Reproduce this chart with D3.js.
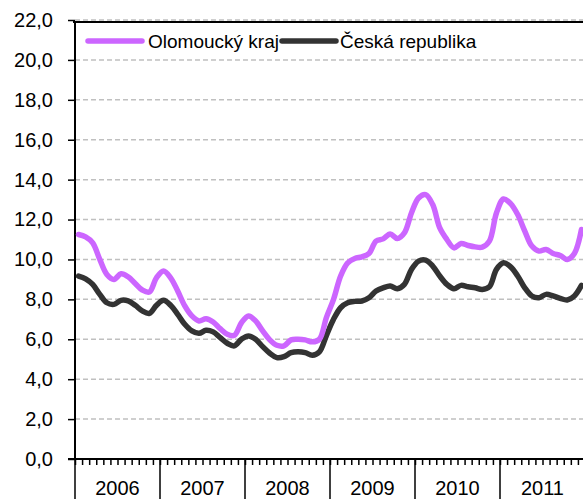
<!DOCTYPE html>
<html>
<head>
<meta charset="utf-8">
<script src="https://cdn.jsdelivr.net/npm/d3@7"></script>
<style>
  body { margin: 0; background: #fff; }
  svg { display: block; font-family: 'Liberation Sans', Arial, sans-serif; }
</style>
</head>
<body>
<svg id="chart" width="583" height="499"></svg>
<script>
const years = [2006, 2007, 2008, 2009, 2010, 2011]
const seriesNames = ['Olomoucký kraj', 'Česká republika']
const yTicks = [0, 2, 4, 6, 8, 10, 12, 14, 16, 18, 20, 22]

// monthly values, Jan 2006 .. Dec 2011
const olomoucky = [
  11.25, 11.13, 10.83, 10.0, 9.25, 9.0, 9.28, 9.13, 8.8, 8.47, 8.37, 9.08,
  9.42, 9.08, 8.42, 7.67, 7.17, 6.92, 7.03, 6.87, 6.53, 6.25, 6.2, 6.83,
  7.17, 6.92, 6.42, 5.97, 5.7, 5.67, 5.97, 6.0, 5.97, 5.87, 6.0, 7.1,
  8.0, 9.17, 9.83, 10.05, 10.13, 10.3, 10.92, 11.03, 11.28, 11.05, 11.33, 12.33,
  13.08, 13.25, 12.75, 11.58, 11.0, 10.58, 10.8, 10.7, 10.63, 10.62, 10.92, 12.33,
  13.03, 12.8, 12.25, 11.42, 10.67, 10.42, 10.5, 10.3, 10.2, 10.0, 10.3, 11.5
]
const ceskaRepublika = [
  9.17, 9.03, 8.75, 8.25, 7.83, 7.75, 7.95, 7.92, 7.7, 7.42, 7.3, 7.7,
  7.95, 7.7, 7.25, 6.75, 6.42, 6.3, 6.45, 6.37, 6.08, 5.8, 5.67, 6.0,
  6.17, 6.0, 5.63, 5.3, 5.08, 5.13, 5.33, 5.37, 5.33, 5.2, 5.37, 6.2,
  7.0, 7.58, 7.83, 7.9, 7.92, 8.08, 8.42, 8.58, 8.67, 8.53, 8.75, 9.5,
  9.92, 9.97, 9.67, 9.17, 8.75, 8.53, 8.7, 8.63, 8.58, 8.5, 8.63, 9.5,
  9.83, 9.63, 9.17, 8.58, 8.17, 8.08, 8.25, 8.17, 8.05, 7.97, 8.17, 8.7
]

const margin = { left: 75, right: 585, top: 20, bottom: 459 }
const svg = d3.select('#chart')

const months = d3.range(years.length * 12)

const x = d3.scaleBand().domain(months).range([margin.left, margin.right]).padding(0)
const xm = d3.scaleLinear().domain([0, months.length]).range([margin.left, margin.right])
const y = d3.scaleLinear().domain([0, 22]).range([margin.bottom, margin.top])

// grid
svg.append('g')
  .selectAll('line')
  .data(yTicks.filter((d) => d > 0))
  .enter()
  .append('line')
  .attr('x1', margin.left)
  .attr('x2', 583)
  .attr('y1', (d) => y(d))
  .attr('y2', (d) => y(d))
  .attr('stroke', '#c0c0c0')
  .attr('stroke-width', 1.5)
  .attr('stroke-dasharray', '5,3')

// top frame line
svg.append('line')
  .attr('x1', margin.left - 2).attr('x2', 583)
  .attr('y1', y(22) + 2).attr('y2', y(22) + 2)
  .attr('stroke', '#000').attr('stroke-width', 2)

// y axis
const yAxis = svg.append('g')
  .attr('transform', `translate(${margin.left},0)`)
  .call(d3.axisLeft(y).tickValues(yTicks).tickSize(7).tickPadding(15)
    .tickFormat((d) => d.toFixed(1).replace('.', ',')))
yAxis.select('.domain').attr('stroke-width', 2).attr('d', `M0,${y(22) + 2}V${margin.bottom}`)
yAxis.selectAll('.tick line').attr('stroke-width', 1.5)
yAxis.selectAll('.tick text').attr('font-size', 20).attr('fill', '#000')
  .attr('font-family', "'Liberation Sans', Arial, sans-serif")

// x axis: month ticks
const xAxis = svg.append('g')
  .attr('transform', `translate(0,${margin.bottom})`)
  .call(d3.axisBottom(xm).tickValues(d3.range(months.length + 1)).tickSize(6).tickFormat(''))
xAxis.select('.domain').attr('stroke-width', 2).attr('d', `M${margin.left - 7},0H583`)
xAxis.selectAll('.tick line').attr('stroke-width', 1.5)

// year separators and labels
svg.append('g')
  .selectAll('line')
  .data(d3.range(years.length + 1))
  .enter()
  .append('line')
  .attr('x1', (d) => xm(d * 12))
  .attr('x2', (d) => xm(d * 12))
  .attr('y1', margin.bottom)
  .attr('y2', 499)
  .attr('stroke', '#000')
  .attr('stroke-width', 1.5)

svg.append('g')
  .selectAll('text')
  .data(years)
  .enter()
  .append('text')
  .attr('x', (d, i) => xm(i * 12 + 6))
  .attr('y', 495)
  .attr('text-anchor', 'middle')
  .attr('font-size', 20)
  .text((d) => d)

// lines
const line = d3.line()
  .x((d, i) => x(i) + x.bandwidth() / 2)
  .y((d) => y(d))
  .curve(d3.curveCatmullRom.alpha(0.5))

const series = [
  { name: seriesNames[0], values: olomoucky, color: '#cc66ff' },
  { name: seriesNames[1], values: ceskaRepublika, color: '#333333' }
]

svg.append('g')
  .selectAll('path')
  .data(series.slice().reverse())
  .enter()
  .append('path')
  .attr('d', (d) => line(d.values))
  .attr('fill', 'none')
  .attr('stroke', (d) => d.color)
  .attr('stroke-width', 5.5)
  .attr('stroke-linejoin', 'round')
  .attr('stroke-linecap', 'round')

// legend
const legendX = [88, 282]
const legend = svg.append('g')
  .selectAll('g')
  .data(series)
  .enter()
  .append('g')
  .attr('transform', (d, i) => `translate(${legendX[i]},41)`)
legend.append('line')
  .attr('x1', 0).attr('x2', 54)
  .attr('stroke', (d) => d.color)
  .attr('stroke-width', 5.5)
  .attr('stroke-linecap', 'round')
legend.append('text')
  .attr('x', (d, i) => (i === 0 ? 60 : 58))
  .attr('y', 7)
  .attr('font-size', 19)
  .text((d) => d.name)
</script>
</body>
</html>
